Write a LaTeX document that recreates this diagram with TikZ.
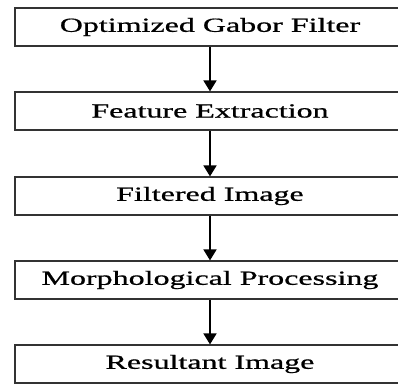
\documentclass[tikz,border=0pt]{standalone}
\usepackage{fontspec}
\setmainfont{Liberation Serif}[FakeStretch=1.6,FakeBold=0.8]
\usetikzlibrary{arrows.meta}
\begin{document}
\begin{tikzpicture}[x=1pt,y=1pt,
  stepbox/.style={draw=black!80, line width=1.2pt, rectangle, minimum width=390pt, minimum height=38pt, inner sep=0pt, font=\fontsize{20}{24}\selectfont, text=black},
  flow/.style={line width=1.8pt, -{Triangle[width=13pt,length=11pt]}}]
\useasboundingbox (0,0) rectangle (398,-383);
\begin{scope}
\clip (0,0) rectangle (398,-383);
\node[stepbox] (b1) at (210,-27) {Optimized Gabor Filter};
\node[stepbox] (b2) at (210,-111) {Feature Extraction};
\node[stepbox] (b3) at (210,-196) {Filtered Image};
\node[stepbox] (b4) at (210,-280) {Morphological Processing};
\node[stepbox] (b5) at (210,-364) {Resultant Image};
\draw[flow] (b1) -- (b2);
\draw[flow] (b2) -- (b3);
\draw[flow] (b3) -- (b4);
\draw[flow] (b4) -- (b5);
\end{scope}
\end{tikzpicture}
\end{document}
